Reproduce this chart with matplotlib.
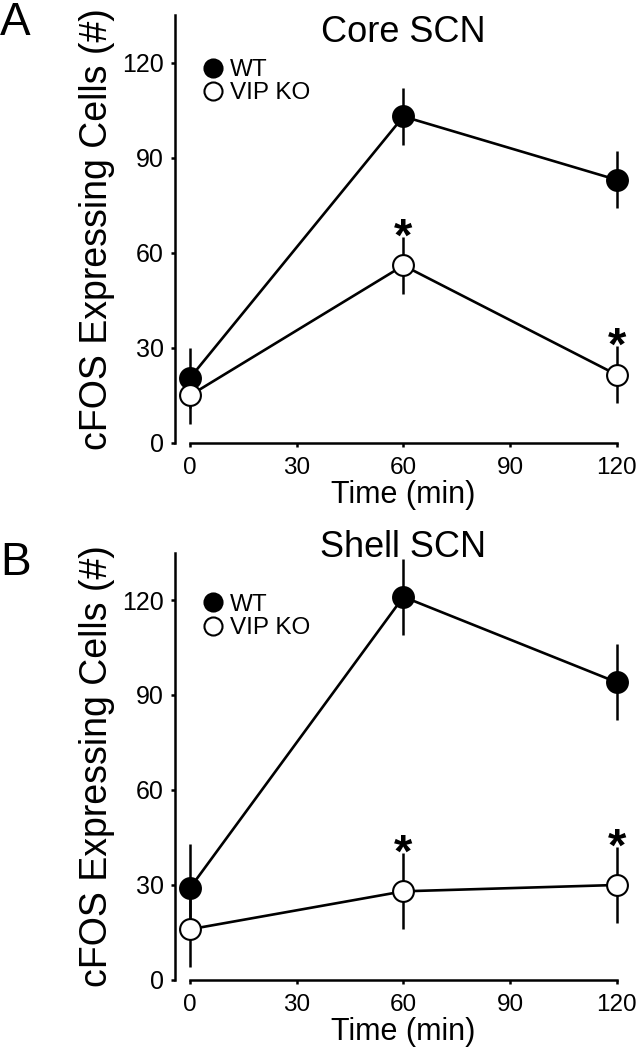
import matplotlib
matplotlib.use("Agg")
import matplotlib.pyplot as plt
from matplotlib.lines import Line2D
from matplotlib.transforms import blended_transform_factory

plt.rcParams.update({
    "font.family": ["Liberation Sans", "DejaVu Sans"],
    "axes.linewidth": 1.8,
    "xtick.major.width": 1.8, "ytick.major.width": 1.8,
    "xtick.major.size": 3, "ytick.major.size": 3,
    "xtick.labelsize": 17.5, "ytick.labelsize": 18,
})

# ── data ─────────────────────────────────────────────────────────────────────
time_min = [0, 60, 120]

core_wt = [20.5, 103, 83]
core_wt_sem = [9.5, 9, 9]
core_ko = [15, 56, 21.5]
core_ko_sem = [9, 9, 9]
core_sig = [False, True, True]

shell_wt = [29, 121, 94]
shell_wt_sem = [14, 12, 12]
shell_ko = [16, 28, 30]
shell_ko_sem = [12, 12, 12]
shell_sig = [False, True, True]

x_ticks = [0, 30, 60, 90, 120]
y_ticks = [0, 30, 60, 90, 120]

fig = plt.figure(figsize=(6.37, 10.5), dpi=100)


def draw_panel(rect, letter, letter_y, title, title_y, wt, wt_sem, ko, ko_sem, sig, leg_top):
    ax = fig.add_axes(rect)
    for side in ("top", "right"):
        ax.spines[side].set_visible(False)

    style = dict(fmt="o-", color="black", mec="black", ms=15, mew=1.5, lw=1.9,
                 elinewidth=1.8, capsize=0, clip_on=False)
    ax.errorbar(time_min, wt, yerr=wt_sem, mfc="black", **style)
    ax.errorbar(time_min, ko, yerr=ko_sem, mfc="white", **style)

    # significance stars above the KO error bars
    for t, m, s, flag in zip(time_min, ko, ko_sem, sig):
        if flag:
            ax.annotate("*", (t, m + s), xytext=(0, -10), textcoords="offset points",
                        ha="center", va="baseline", fontsize=34, fontweight="bold")

    ax.set_xlim(-4.2, 122)
    ax.set_ylim(0, 135)
    ax.spines["bottom"].set_bounds(0, 120)
    ax.spines["left"].set_bounds(0, 135)
    ax.set_xticks(x_ticks)
    ax.set_yticks(y_ticks)
    ax.tick_params(axis="x", pad=7)
    ax.tick_params(axis="y", pad=5)

    ax.set_xlabel("Time (min)", fontsize=22)
    ax.xaxis.set_label_coords(0.508, -0.086)
    ax.set_ylabel("cFOS Expressing Cells (#)", fontsize=27)
    ax.yaxis.set_label_coords(-0.134, 0.5)

    tr = blended_transform_factory(ax.transData, ax.transAxes)
    ax.text(60, title_y, title, transform=tr, ha="center", va="baseline", fontsize=26)

    handles = [
        Line2D([], [], ls="none", marker="o", ms=13, mew=1.5, mfc="black", mec="black"),
        Line2D([], [], ls="none", marker="o", ms=13, mew=1.5, mfc="white", mec="black"),
    ]
    ax.legend(handles=handles, labels=["WT", "VIP KO"],
              loc="upper left", bbox_to_anchor=(0.058, leg_top), frameon=False,
              handlelength=1.0, handletextpad=0.2, labelspacing=0.05,
              borderpad=0, borderaxespad=0, fontsize=17.5)

    fig.text(0.0, letter_y, letter, ha="left", va="top", fontsize=33)
    return ax


draw_panel([0.2747, 0.5781, 0.7049, 0.4076], "A", 0.999, "Core SCN", 0.9376,
           core_wt, core_wt_sem, core_ko, core_ko_sem, core_sig, 0.897)
draw_panel([0.2747, 0.0667, 0.7049, 0.4071], "B", 0.485, "Shell SCN", 0.9895,
           shell_wt, shell_wt_sem, shell_ko, shell_ko_sem, shell_sig, 0.903)

fig.savefig("out.png", dpi=100)
